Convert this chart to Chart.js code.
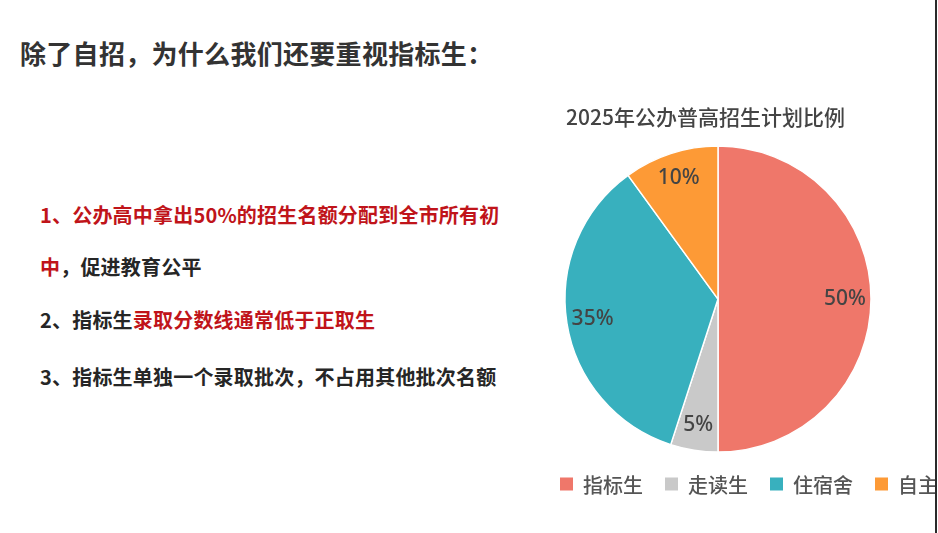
<!DOCTYPE html>
<html lang="zh-CN">
<head>
    <meta charset="UTF-8">
    <title>指标生</title>
    <script src="https://cdn.jsdelivr.net/npm/chart.js"></script>
    <style>
        body, html {
            margin: 0;
            padding: 0;
            width: 938px;
            height: 533px;
            background: #fff;
            font-family: 'Noto Sans CJK SC', 'Noto Sans', sans-serif;
            overflow: hidden;
        }
        .page {
            position: relative;
            width: 938px;
            height: 533px;
        }
        .heading {
            position: absolute;
            left: 20px;
            top: 36px;
            font-size: 26px;
            line-height: 34px;
            font-weight: bold;
            letter-spacing: 0.3px;
            color: #333;
        }
        .item {
            position: absolute;
            left: 40px;
            font-size: 20px;
            line-height: 28px;
            font-weight: bold;
            letter-spacing: 0.2px;
            color: #262626;
            white-space: nowrap;
        }
        .red { color: #c0141a; }
        .chart-box {
            position: absolute;
            left: 550px;
            top: 90px;
            width: 385px;
            height: 443px;
            overflow: hidden;
        }
        .chart-box canvas {
            position: absolute;
            left: 0;
            top: 0;
        }
        .edge {
            position: absolute;
            left: 935px;
            top: 0;
            width: 2px;
            height: 533px;
            background: #2a2a2a;
        }
    </style>
</head>
<body>
    <div class="page">
        <div class="heading">除了自招，为什么我们还要重视指标生：</div>
        <div class="item red" style="top:201px">1、公办高中拿出50%的招生名额分配到全市所有初</div>
        <div class="item" style="top:253px"><span class="red">中</span>，促进教育公平</div>
        <div class="item" style="top:306px">2、指标生<span class="red">录取分数线通常低于正取生</span></div>
        <div class="item" style="top:363px">3、指标生单独一个录取批次，不占用其他批次名额</div>

        <div class="chart-box">
            <div style="position:absolute;left:0;top:0;width:450px;height:443px;">
                <canvas id="pieChart"></canvas>
            </div>
        </div>
        <div class="edge"></div>
    </div>

    <script>
        // 数据
        const chartTitle = '2025年公办普高招生计划比例';
        const categories = ['指标生', '走读生', '住宿舍', '自主招生'];
        const shares = [50, 5, 35, 10];
        const sliceColors = ['#ef776a', '#c9c9c9', '#38b0be', '#fd9a36'];

        // 扇区内的百分比标签
        const sliceLabels = {
            id: 'sliceLabels',
            afterDatasetsDraw(chart) {
                const ctx = chart.ctx;
                const meta = chart.getDatasetMeta(0);
                ctx.save();
                ctx.font = '500 21px "Noto Sans", sans-serif';
                ctx.fillStyle = '#444';
                ctx.textAlign = 'center';
                ctx.textBaseline = 'middle';
                meta.data.forEach((arc, i) => {
                    const a = (arc.startAngle + arc.endAngle) / 2;
                    const r = arc.outerRadius * 0.83;
                    ctx.fillText(shares[i] + '%', arc.x + Math.cos(a) * r, arc.y + Math.sin(a) * r);
                });
                ctx.restore();
            }
        };

        // 底部图例（横跨整个画布，超出部分被裁掉）
        const bottomLegend = {
            id: 'bottomLegend',
            afterDraw(chart) {
                const ctx = chart.ctx;
                const y = 394;
                let x = 10;
                ctx.save();
                ctx.font = '500 20px "Noto Sans CJK SC", sans-serif';
                ctx.textBaseline = 'middle';
                categories.forEach((name, i) => {
                    ctx.fillStyle = sliceColors[i];
                    ctx.fillRect(x, y - 6.5, 13, 13);
                    ctx.fillStyle = '#555';
                    ctx.fillText(name, x + 23, y + 1);
                    x += 23 + ctx.measureText(name).width + 22;
                });
                ctx.restore();
            }
        };

        new Chart(document.getElementById('pieChart').getContext('2d'), {
            type: 'pie',
            data: {
                labels: categories,
                datasets: [{
                    data: shares,
                    backgroundColor: sliceColors,
                    borderColor: '#ffffff',
                    borderWidth: 1.5,
                    hoverOffset: 0
                }]
            },
            options: {
                responsive: true,
                maintainAspectRatio: false,
                animation: false,
                radius: 153,
                layout: {
                    padding: { left: 16, right: 130, top: 0, bottom: 74 }
                },
                plugins: {
                    legend: { display: false },
                    tooltip: { enabled: false },
                    title: {
                        display: true,
                        text: chartTitle,
                        align: 'start',
                        color: '#444',
                        font: { size: 21, weight: 500, family: '"Noto Sans CJK SC", sans-serif' },
                        padding: { top: 14, bottom: 10 }
                    }
                }
            },
            plugins: [sliceLabels, bottomLegend]
        });
    </script>
</body>
</html>
